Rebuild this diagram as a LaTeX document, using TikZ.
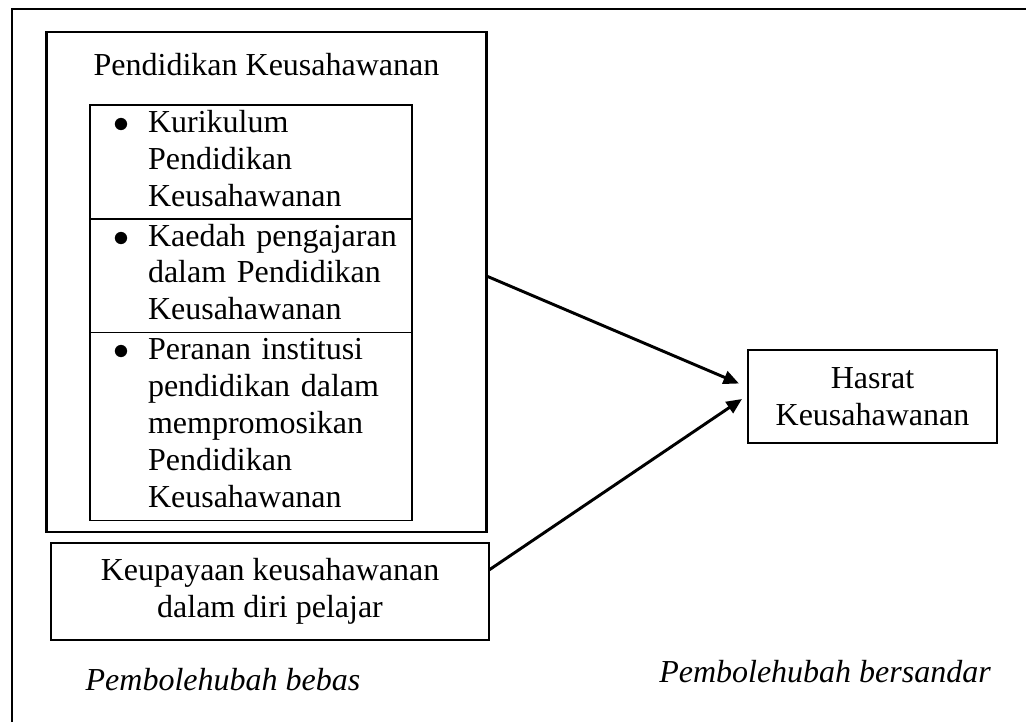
\documentclass[tikz,border=0pt]{standalone}
\usepackage{fontspec}
\setmainfont{Liberation Serif}
\usetikzlibrary{positioning,calc,arrows.meta}
\newcommand{\bul}{\llap{$\bullet$\hspace{7pt}}}
\newcommand{\celltext}[1]{\begin{tabular}{@{\hspace{21.75pt}}l@{}}#1\end{tabular}}
\tikzset{
    every node/.style={font=\fontsize{12}{13.8}\selectfont},
    var box/.style={
        rectangle,
        draw=black,
        line width=1pt,
        inner sep=0pt,
        outer sep=0pt,
        align=center,
    },
    list cell/.style={
        rectangle,
        draw=black,
        line width=0.4pt,
        inner sep=0pt,
        outer sep=0pt,
        text width=120.75pt,
        minimum width=120.75pt,
        align=left,
    },
    var label/.style={font=\fontsize{12}{13.8}\selectfont\itshape},
    link/.style={-{Triangle[length=5.8pt,width=5pt]},line width=1.1pt}
}

\begin{document}
\begin{tikzpicture}[x=0.375pt,y=-0.375pt]
\useasboundingbox (0,0) rectangle (1026,722);

%outer frame, cut at right and bottom
\draw[line width=1.1pt] (12,722) -- (12,9) -- (1026,9);

%independent variables
\node[var box,minimum width=165pt,minimum height=187.5pt] (pk) at (266.5,282) {};
\node (pk-title) at (266.5,65) {Pendidikan Keusahawanan};

\node[list cell,minimum height=42.75pt] (cell1) at (251,162) {\celltext{\bul Kurikulum\\ Pendidikan\\ Keusahawanan}};
\node[list cell,minimum height=42.4pt,below=0pt of cell1] (cell2) {\celltext{\bul Kaedah pengajaran\\ dalam Pendidikan\\ Keusahawanan}};
\node[list cell,minimum height=70.5pt,below=0pt of cell2] (cell3) {\celltext{\bul Peranan institusi\\ pendidikan dalam\\ mempromosikan\\ Pendidikan\\ Keusahawanan}};

\node[var box,minimum width=164.25pt,minimum height=36.4pt] (kd) at (270,591.5) {Keupayaan keusahawanan\\ dalam diri pelajar};

%dependent variable
\node[var box,minimum width=93.4pt,minimum height=34.9pt] (hk) at (872.5,396.5) {Hasrat\\ Keusahawanan};

\coordinate (tip1) at ($(hk.west)+(-9,-13)$);
\coordinate (tip2) at ($(hk.west)+(-6,2.5)$);
\draw[link] ($(pk.east)+(0,-6)$) -- (tip1);
\draw[link] ($(kd.east)+(0,-21.5)$) -- (tip2);

\node[var label] (bebas) at (223,680) {Pembolehubah bebas};
\node[var label] (bersandar) at (825,672) {Pembolehubah bersandar};

\end{tikzpicture}
\end{document}
